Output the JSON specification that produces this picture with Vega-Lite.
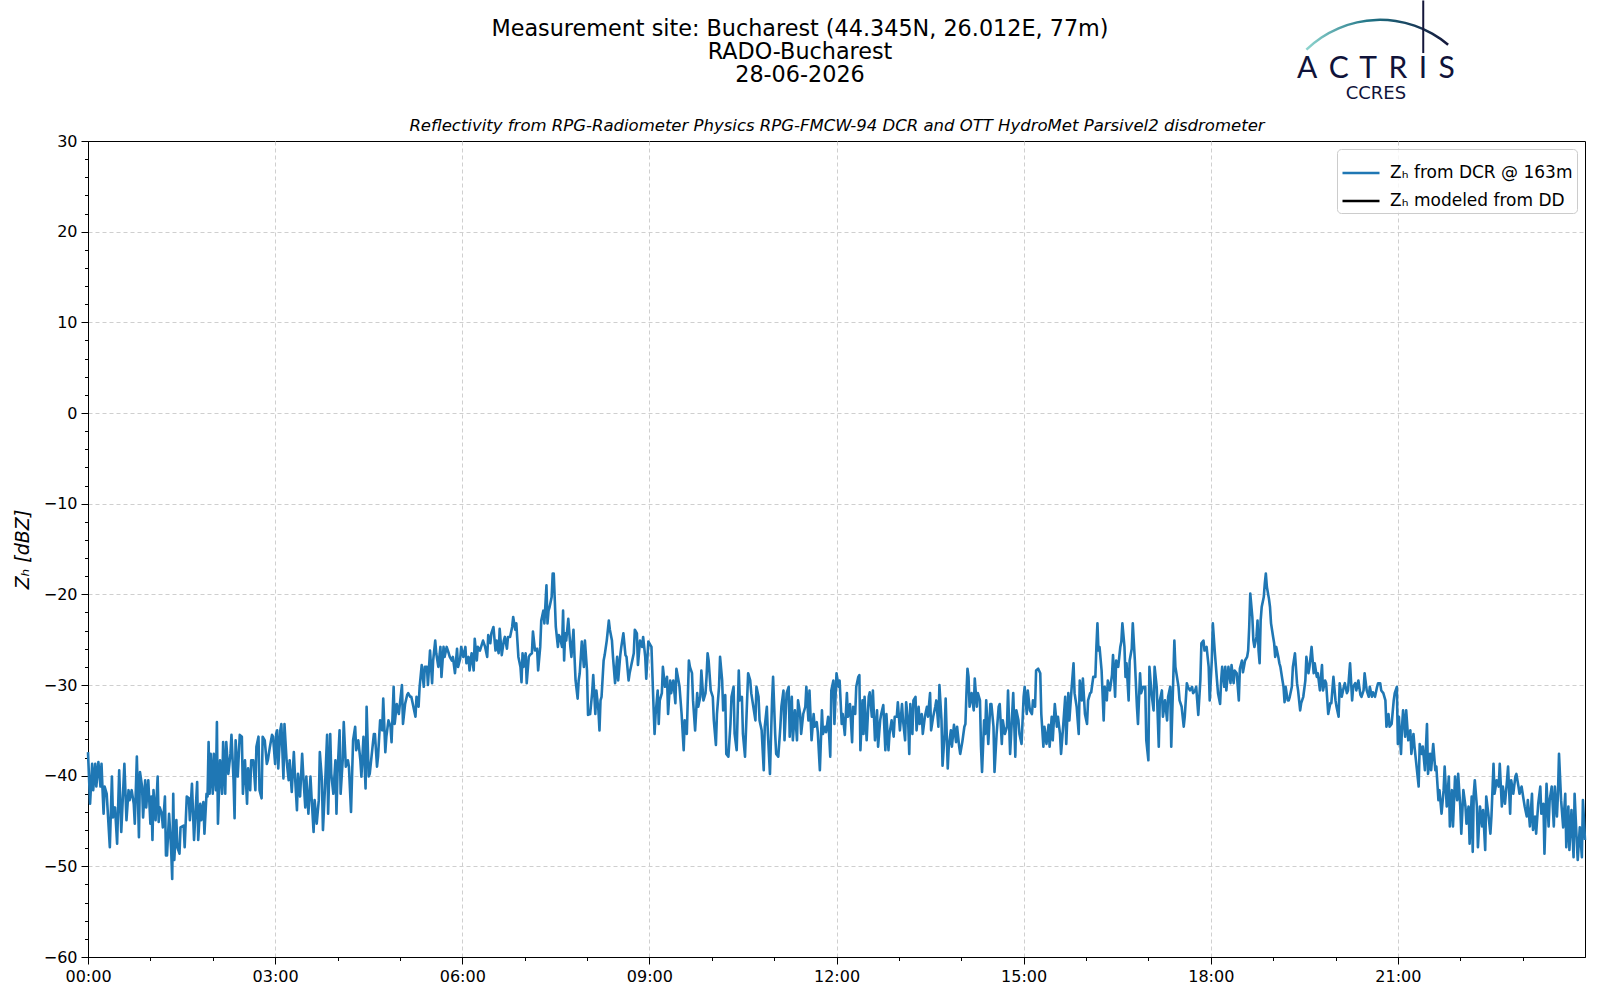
{
  "$schema": "https://vega.github.io/schema/vega-lite/v6.json",
  "width": 1497,
  "height": 816,
  "autosize": {"type": "none"},
  "padding": {"left": 88, "top": 141, "right": 15, "bottom": 43},
  "background": "white",
  "title": {
    "text": ["Measurement site: Bucharest (44.345N, 26.012E, 77m)", "RADO-Bucharest", "28-06-2026"],
    "fontSize": 22.3,
    "fontWeight": "normal",
    "font": "DejaVu Sans",
    "color": "black",
    "lineHeight": 23,
    "anchor": "middle",
    "frame": "group",
    "dx": -36.5,
    "offset": -87
  },
  "config": {
    "font": "DejaVu Sans",
    "view": {"stroke": "black", "strokeWidth": 1}
  },
  "resolve": {"axis": {"x": "independent", "y": "independent"}},
  "layer": [
    {
      "data": {"values": [
        {"m":0,"z":-37.4},{"m":2,"z":-43.1},{"m":4,"z":-38.7},{"m":5,"z":-41.6},{"m":7,"z":-38.7},{"m":8,"z":-41.2},{"m":10,"z":-38.5},{"m":12,"z":-41.2},{"m":13,"z":-38.7},{"m":14,"z":-41.6},
        {"m":15,"z":-44.2},{"m":16,"z":-41.2},{"m":18,"z":-42.0},{"m":21,"z":-47.9},{"m":23,"z":-40.1},{"m":24,"z":-44.6},{"m":26,"z":-43.5},{"m":28,"z":-47.5},{"m":30,"z":-39.4},{"m":32,"z":-46.2},
        {"m":35,"z":-38.7},{"m":37,"z":-44.9},{"m":39,"z":-41.6},{"m":40,"z":-42.7},{"m":42,"z":-41.6},{"m":44,"z":-43.1},{"m":45,"z":-45.3},{"m":47,"z":-37.9},{"m":49,"z":-46.8},{"m":50,"z":-39.6},
        {"m":52,"z":-41.2},{"m":53,"z":-44.6},{"m":55,"z":-40.5},{"m":56,"z":-43.5},{"m":58,"z":-40.5},{"m":60,"z":-45.3},{"m":61,"z":-42.3},{"m":62,"z":-47.1},{"m":63,"z":-41.6},{"m":65,"z":-44.9},
        {"m":67,"z":-40.1},{"m":68,"z":-45.1},{"m":69,"z":-43.5},{"m":71,"z":-44.2},{"m":72,"z":-45.7},{"m":74,"z":-42.3},{"m":75,"z":-48.8},{"m":76,"z":-48.8},{"m":78,"z":-44.2},{"m":80,"z":-48.2},
        {"m":81,"z":-51.4},{"m":82,"z":-42.0},{"m":83,"z":-49.3},{"m":85,"z":-44.9},{"m":86,"z":-47.9},{"m":88,"z":-48.6},{"m":89,"z":-45.7},{"m":92,"z":-45.5},{"m":93,"z":-47.9},{"m":95,"z":-42.3},
        {"m":97,"z":-42.5},{"m":98,"z":-44.9},{"m":100,"z":-40.9},{"m":102,"z":-47.1},{"m":105,"z":-40.7},{"m":106,"z":-47.1},{"m":108,"z":-43.1},{"m":109,"z":-44.9},{"m":111,"z":-42.9},{"m":112,"z":-46.4},
        {"m":114,"z":-42.0},{"m":115,"z":-42.3},{"m":116,"z":-36.3},{"m":117,"z":-42.0},{"m":118,"z":-37.6},{"m":120,"z":-42.0},{"m":121,"z":-37.6},{"m":123,"z":-41.6},{"m":124,"z":-34.1},{"m":125,"z":-45.3},
        {"m":127,"z":-38.3},{"m":129,"z":-42.0},{"m":130,"z":-36.3},{"m":132,"z":-42.0},{"m":133,"z":-36.3},{"m":135,"z":-39.8},{"m":137,"z":-37.6},{"m":138,"z":-35.5},{"m":140,"z":-40.5},{"m":141,"z":-44.7},
        {"m":142,"z":-36.1},{"m":144,"z":-40.1},{"m":146,"z":-35.5},{"m":148,"z":-35.7},{"m":149,"z":-42.0},{"m":151,"z":-38.3},{"m":153,"z":-43.1},{"m":154,"z":-39.2},{"m":156,"z":-41.6},{"m":157,"z":-38.3},
        {"m":159,"z":-38.3},{"m":161,"z":-41.6},{"m":162,"z":-36.8},{"m":164,"z":-35.7},{"m":165,"z":-41.6},{"m":167,"z":-42.5},{"m":168,"z":-35.7},{"m":170,"z":-36.1},{"m":172,"z":-38.7},{"m":173,"z":-38.3},
        {"m":175,"z":-36.8},{"m":177,"z":-35.5},{"m":178,"z":-35.7},{"m":180,"z":-38.7},{"m":181,"z":-35.4},{"m":182,"z":-35.0},{"m":183,"z":-39.2},{"m":185,"z":-35.0},{"m":186,"z":-34.3},{"m":188,"z":-40.3},
        {"m":189,"z":-34.3},{"m":191,"z":-38.3},{"m":193,"z":-40.5},{"m":194,"z":-38.3},{"m":196,"z":-41.8},{"m":198,"z":-37.4},{"m":199,"z":-39.8},{"m":201,"z":-43.8},{"m":202,"z":-39.8},{"m":204,"z":-42.3},
        {"m":206,"z":-37.6},{"m":207,"z":-39.8},{"m":209,"z":-43.5},{"m":210,"z":-40.1},{"m":212,"z":-44.2},{"m":214,"z":-40.1},{"m":215,"z":-42.3},{"m":217,"z":-46.2},{"m":218,"z":-42.7},{"m":220,"z":-45.3},
        {"m":222,"z":-42.7},{"m":223,"z":-37.4},{"m":225,"z":-40.5},{"m":226,"z":-46.0},{"m":228,"z":-41.2},{"m":230,"z":-35.5},{"m":231,"z":-44.2},{"m":233,"z":-35.4},{"m":234,"z":-39.8},{"m":236,"z":-42.0},
        {"m":238,"z":-38.3},{"m":239,"z":-44.2},{"m":240,"z":-39.8},{"m":242,"z":-35.0},{"m":243,"z":-42.0},{"m":245,"z":-38.3},{"m":246,"z":-34.1},{"m":248,"z":-39.0},{"m":250,"z":-38.3},{"m":251,"z":-39.0},
        {"m":253,"z":-44.0},{"m":255,"z":-36.1},{"m":257,"z":-34.6},{"m":258,"z":-37.2},{"m":260,"z":-36.1},{"m":262,"z":-38.3},{"m":263,"z":-40.1},{"m":265,"z":-35.7},{"m":267,"z":-41.4},{"m":268,"z":-32.4},
        {"m":270,"z":-40.1},{"m":271,"z":-39.8},{"m":273,"z":-37.6},{"m":275,"z":-35.4},{"m":276,"z":-35.4},{"m":278,"z":-39.0},{"m":279,"z":-37.9},{"m":281,"z":-33.9},{"m":283,"z":-35.0},{"m":284,"z":-31.5},
        {"m":286,"z":-37.4},{"m":287,"z":-35.7},{"m":289,"z":-33.9},{"m":291,"z":-34.6},{"m":292,"z":-36.3},{"m":294,"z":-30.2},{"m":295,"z":-34.3},{"m":297,"z":-32.1},{"m":299,"z":-33.2},{"m":300,"z":-32.1},
        {"m":302,"z":-30.0},{"m":303,"z":-34.3},{"m":305,"z":-32.1},{"m":307,"z":-31.1},{"m":308,"z":-30.9},{"m":310,"z":-31.3},{"m":311,"z":-31.3},{"m":313,"z":-32.4},{"m":315,"z":-33.5},{"m":316,"z":-31.3},
        {"m":318,"z":-32.4},{"m":319,"z":-30.2},{"m":321,"z":-27.8},{"m":323,"z":-30.2},{"m":324,"z":-28.0},{"m":326,"z":-28.0},{"m":327,"z":-30.0},{"m":329,"z":-26.2},{"m":331,"z":-29.8},{"m":332,"z":-27.3},
        {"m":334,"z":-25.1},{"m":335,"z":-26.5},{"m":337,"z":-28.0},{"m":339,"z":-25.8},{"m":340,"z":-29.1},{"m":342,"z":-25.8},{"m":343,"z":-26.9},{"m":345,"z":-25.8},{"m":347,"z":-26.5},{"m":348,"z":-26.9},
        {"m":350,"z":-27.3},{"m":351,"z":-26.9},{"m":353,"z":-28.7},{"m":355,"z":-26.0},{"m":356,"z":-28.0},{"m":358,"z":-27.1},{"m":359,"z":-25.8},{"m":361,"z":-26.9},{"m":363,"z":-25.8},{"m":364,"z":-27.6},
        {"m":366,"z":-26.9},{"m":367,"z":-28.4},{"m":369,"z":-26.5},{"m":371,"z":-28.4},{"m":372,"z":-24.9},{"m":374,"z":-27.3},{"m":375,"z":-25.8},{"m":377,"z":-26.2},
        {"m":380,"z":-25.1},{"m":382,"z":-25.8},{"m":384,"z":-26.9},{"m":385,"z":-24.5},{"m":387,"z":-25.4},{"m":388,"z":-24.3},{"m":390,"z":-23.6},{"m":392,"z":-26.2},{"m":393,"z":-25.1},{"m":395,"z":-26.5},
        {"m":396,"z":-23.8},{"m":398,"z":-26.7},{"m":400,"z":-25.1},{"m":401,"z":-24.7},{"m":403,"z":-26.0},{"m":404,"z":-24.7},{"m":406,"z":-24.7},{"m":408,"z":-23.6},{"m":409,"z":-22.5},{"m":410,"z":-23.2},
        {"m":411,"z":-23.9},{"m":412,"z":-23.2},{"m":414,"z":-26.9},{"m":416,"z":-28.0},{"m":417,"z":-29.7},{"m":418,"z":-26.5},{"m":419,"z":-28.0},{"m":421,"z":-26.5},{"m":422,"z":-29.8},{"m":424,"z":-26.9},
        {"m":425,"z":-26.7},{"m":427,"z":-26.5},{"m":428,"z":-24.1},{"m":430,"z":-26.2},{"m":432,"z":-26.0},{"m":433,"z":-28.4},{"m":435,"z":-25.8},{"m":436,"z":-22.9},{"m":438,"z":-21.8},{"m":439,"z":-23.2},
        {"m":441,"z":-19.0},{"m":442,"z":-23.2},{"m":443,"z":-21.8},{"m":444,"z":-21.4},{"m":446,"z":-20.3},{"m":447,"z":-17.7},{"m":448,"z":-17.7},{"m":449,"z":-20.6},{"m":450,"z":-23.6},{"m":452,"z":-25.8},
        {"m":453,"z":-24.5},{"m":454,"z":-24.7},{"m":456,"z":-25.8},{"m":457,"z":-21.8},{"m":458,"z":-27.3},{"m":459,"z":-24.3},{"m":460,"z":-25.1},{"m":462,"z":-22.7},{"m":464,"z":-25.8},{"m":465,"z":-26.9},
        {"m":467,"z":-23.9},{"m":468,"z":-26.9},{"m":469,"z":-29.5},{"m":471,"z":-31.5},{"m":472,"z":-29.5},{"m":473,"z":-28.7},{"m":475,"z":-25.2},{"m":477,"z":-28.0},{"m":478,"z":-25.1},{"m":480,"z":-28.4},
        {"m":481,"z":-33.3},{"m":483,"z":-33.2},{"m":485,"z":-30.8},{"m":486,"z":-28.9},{"m":488,"z":-33.2},{"m":489,"z":-30.6},{"m":491,"z":-32.8},{"m":492,"z":-35.0},{"m":493,"z":-31.7},{"m":494,"z":-31.3},
        {"m":496,"z":-27.3},{"m":497,"z":-26.7},{"m":499,"z":-25.1},{"m":501,"z":-22.9},{"m":502,"z":-23.9},{"m":504,"z":-25.1},{"m":505,"z":-26.9},{"m":507,"z":-29.8},{"m":509,"z":-26.9},{"m":510,"z":-29.5},
        {"m":512,"z":-26.7},{"m":513,"z":-25.8},{"m":515,"z":-24.3},{"m":517,"z":-26.7},{"m":518,"z":-26.9},{"m":520,"z":-29.5},{"m":521,"z":-28.7},{"m":523,"z":-27.6},{"m":525,"z":-26.5},{"m":526,"z":-23.9},
        {"m":528,"z":-24.3},{"m":529,"z":-27.8},{"m":531,"z":-25.1},{"m":533,"z":-25.8},{"m":534,"z":-24.7},{"m":536,"z":-26.9},{"m":537,"z":-29.3},{"m":539,"z":-25.2},{"m":541,"z":-25.6},{"m":542,"z":-25.8},
        {"m":544,"z":-32.4},{"m":545,"z":-35.4},{"m":546,"z":-33.2},{"m":548,"z":-30.6},{"m":549,"z":-34.3},{"m":550,"z":-31.7},{"m":552,"z":-30.9},{"m":553,"z":-28.0},{"m":555,"z":-30.2},{"m":557,"z":-29.1},
        {"m":558,"z":-33.2},{"m":560,"z":-29.5},{"m":561,"z":-30.9},{"m":563,"z":-29.5},{"m":565,"z":-32.0},{"m":566,"z":-28.2},{"m":568,"z":-29.5},{"m":569,"z":-30.2},{"m":571,"z":-33.2},{"m":573,"z":-37.2},
        {"m":574,"z":-33.9},{"m":575,"z":-34.6},{"m":576,"z":-35.4},{"m":578,"z":-27.3},{"m":579,"z":-28.0},{"m":581,"z":-28.7},{"m":582,"z":-31.7},{"m":584,"z":-35.0},{"m":586,"z":-30.9},{"m":587,"z":-32.4},
        {"m":589,"z":-31.3},{"m":590,"z":-28.4},{"m":592,"z":-31.7},{"m":594,"z":-30.9},{"m":595,"z":-29.1},{"m":596,"z":-26.5},{"m":597,"z":-27.3},{"m":599,"z":-30.6},{"m":601,"z":-31.3},{"m":602,"z":-33.9},
        {"m":604,"z":-36.6},{"m":605,"z":-33.2},{"m":607,"z":-30.2},{"m":608,"z":-26.9},{"m":610,"z":-29.5},{"m":611,"z":-32.8},{"m":613,"z":-31.1},{"m":614,"z":-37.6},{"m":616,"z":-37.9},{"m":618,"z":-34.3},
        {"m":619,"z":-31.3},{"m":621,"z":-30.2},{"m":622,"z":-35.4},{"m":624,"z":-37.2},{"m":626,"z":-28.4},{"m":627,"z":-31.7},{"m":629,"z":-31.3},{"m":630,"z":-35.4},{"m":632,"z":-37.9},{"m":634,"z":-31.7},
        {"m":635,"z":-28.7},{"m":637,"z":-29.5},{"m":638,"z":-30.9},{"m":640,"z":-32.4},{"m":642,"z":-33.9},{"m":643,"z":-30.2},{"m":645,"z":-31.3},{"m":646,"z":-33.9},{"m":648,"z":-35.0},{"m":650,"z":-39.4},
        {"m":651,"z":-34.6},{"m":653,"z":-32.4},{"m":654,"z":-35.4},{"m":656,"z":-39.8},{"m":658,"z":-31.7},{"m":659,"z":-29.1},{"m":661,"z":-35.4},{"m":662,"z":-37.6},{"m":664,"z":-37.9},{"m":666,"z":-34.6},
        {"m":667,"z":-32.4},{"m":669,"z":-30.6},{"m":670,"z":-36.1},{"m":672,"z":-30.9},{"m":674,"z":-30.2},{"m":675,"z":-35.7},{"m":677,"z":-31.3},{"m":678,"z":-36.1},{"m":680,"z":-32.8},{"m":682,"z":-36.1},
        {"m":683,"z":-31.7},{"m":685,"z":-33.2},{"m":686,"z":-35.4},{"m":688,"z":-33.2},{"m":690,"z":-32.4},{"m":691,"z":-30.2},{"m":693,"z":-33.9},{"m":694,"z":-30.6},{"m":696,"z":-36.1},{"m":698,"z":-33.2},
        {"m":699,"z":-34.6},{"m":701,"z":-34.1},{"m":702,"z":-35.2},{"m":704,"z":-39.4},{"m":706,"z":-32.8},{"m":707,"z":-35.4},{"m":709,"z":-34.6},{"m":710,"z":-35.2},{"m":712,"z":-33.5},{"m":714,"z":-37.9},
        {"m":715,"z":-30.6},{"m":717,"z":-29.5},{"m":718,"z":-34.3},{"m":720,"z":-28.7},{"m":722,"z":-30.2},{"m":723,"z":-29.5},
        {"m":725,"z":-34.3},{"m":726,"z":-33.2},{"m":728,"z":-35.5},{"m":730,"z":-30.9},{"m":731,"z":-33.5},{"m":733,"z":-32.1},{"m":735,"z":-36.3},{"m":736,"z":-32.4},{"m":738,"z":-33.2},{"m":739,"z":-30.2},
        {"m":741,"z":-29.1},{"m":742,"z":-28.9},{"m":743,"z":-37.2},{"m":745,"z":-31.7},{"m":746,"z":-35.4},{"m":747,"z":-31.3},{"m":749,"z":-36.1},{"m":751,"z":-31.3},{"m":752,"z":-30.8},{"m":754,"z":-33.5},
        {"m":755,"z":-30.6},{"m":757,"z":-36.1},{"m":759,"z":-32.8},{"m":760,"z":-36.8},{"m":762,"z":-33.9},{"m":763,"z":-33.2},{"m":765,"z":-32.2},{"m":767,"z":-37.2},{"m":768,"z":-33.2},{"m":770,"z":-37.2},
        {"m":771,"z":-35.4},{"m":773,"z":-33.9},{"m":775,"z":-35.7},{"m":776,"z":-33.5},{"m":778,"z":-33.5},{"m":779,"z":-31.9},{"m":781,"z":-35.0},{"m":783,"z":-32.1},{"m":784,"z":-33.9},{"m":786,"z":-36.1},
        {"m":787,"z":-31.9},{"m":789,"z":-34.3},{"m":790,"z":-37.6},{"m":791,"z":-32.1},{"m":793,"z":-35.4},{"m":794,"z":-31.7},{"m":796,"z":-31.3},{"m":797,"z":-35.0},{"m":799,"z":-32.4},{"m":800,"z":-34.3},
        {"m":802,"z":-33.2},{"m":803,"z":-35.4},{"m":805,"z":-33.5},{"m":807,"z":-32.4},{"m":808,"z":-33.5},{"m":810,"z":-30.9},{"m":811,"z":-35.0},{"m":813,"z":-33.5},{"m":815,"z":-32.4},{"m":816,"z":-31.7},
        {"m":818,"z":-34.6},{"m":819,"z":-30.0},{"m":821,"z":-33.9},{"m":822,"z":-38.9},{"m":824,"z":-35.4},{"m":825,"z":-31.5},{"m":827,"z":-39.2},{"m":828,"z":-36.8},{"m":830,"z":-35.0},{"m":831,"z":-36.8},
        {"m":833,"z":-34.4},{"m":835,"z":-36.3},{"m":836,"z":-34.6},{"m":838,"z":-36.8},{"m":839,"z":-37.6},{"m":841,"z":-36.3},{"m":843,"z":-34.6},{"m":844,"z":-34.3},{"m":845,"z":-30.9},{"m":846,"z":-28.2},
        {"m":847,"z":-29.1},{"m":848,"z":-32.4},{"m":850,"z":-30.9},{"m":852,"z":-32.8},{"m":853,"z":-29.3},{"m":855,"z":-32.4},{"m":856,"z":-30.9},{"m":858,"z":-31.7},{"m":859,"z":-36.8},{"m":860,"z":-39.6},
        {"m":862,"z":-33.9},{"m":863,"z":-35.4},{"m":864,"z":-31.7},{"m":866,"z":-36.5},{"m":868,"z":-32.1},{"m":869,"z":-32.1},{"m":871,"z":-34.6},{"m":872,"z":-39.6},{"m":874,"z":-35.4},{"m":876,"z":-32.4},
        {"m":877,"z":-32.1},{"m":879,"z":-36.5},{"m":880,"z":-33.9},{"m":882,"z":-35.4},{"m":884,"z":-34.6},{"m":885,"z":-30.6},{"m":887,"z":-37.6},{"m":888,"z":-35.4},{"m":890,"z":-30.9},{"m":892,"z":-37.9},
        {"m":893,"z":-32.8},{"m":895,"z":-33.9},{"m":896,"z":-35.4},{"m":898,"z":-36.5},{"m":900,"z":-31.3},{"m":901,"z":-30.2},{"m":903,"z":-33.2},{"m":904,"z":-30.6},{"m":906,"z":-32.8},{"m":908,"z":-33.2},
        {"m":909,"z":-31.7},{"m":911,"z":-32.4},{"m":912,"z":-28.4},{"m":914,"z":-28.2},{"m":916,"z":-28.7},{"m":917,"z":-33.2},{"m":919,"z":-36.8},{"m":920,"z":-34.6},{"m":922,"z":-36.5},{"m":924,"z":-34.4},
        {"m":925,"z":-36.8},{"m":927,"z":-33.5},{"m":928,"z":-36.1},{"m":930,"z":-32.1},{"m":932,"z":-34.6},{"m":933,"z":-33.5},{"m":935,"z":-35.4},{"m":936,"z":-37.6},{"m":938,"z":-34.6},{"m":940,"z":-31.3},
        {"m":941,"z":-36.5},{"m":943,"z":-30.9},{"m":944,"z":-33.9},{"m":946,"z":-30.6},{"m":948,"z":-27.6},{"m":949,"z":-30.9},{"m":951,"z":-32.4},{"m":953,"z":-35.4},{"m":954,"z":-29.5},{"m":956,"z":-31.7},
        {"m":957,"z":-29.3},{"m":959,"z":-33.2},{"m":961,"z":-34.3},{"m":962,"z":-31.7},{"m":964,"z":-30.9},{"m":965,"z":-30.8},{"m":967,"z":-29.1},{"m":969,"z":-29.1},{"m":970,"z":-25.8},{"m":971,"z":-23.2},
        {"m":972,"z":-26.2},{"m":973,"z":-25.8},{"m":975,"z":-28.4},{"m":977,"z":-33.9},{"m":978,"z":-30.2},{"m":980,"z":-31.7},{"m":981,"z":-29.5},{"m":983,"z":-30.6},{"m":985,"z":-28.9},{"m":986,"z":-26.7},
        {"m":988,"z":-31.3},{"m":989,"z":-27.3},{"m":991,"z":-28.0},{"m":993,"z":-25.8},{"m":994,"z":-25.2},{"m":995,"z":-23.2},{"m":997,"z":-25.8},{"m":998,"z":-29.1},{"m":999,"z":-27.6},{"m":1001,"z":-31.7},
        {"m":1002,"z":-27.3},{"m":1004,"z":-26.0},{"m":1005,"z":-23.2},{"m":1007,"z":-27.3},{"m":1009,"z":-32.4},{"m":1010,"z":-34.3},{"m":1012,"z":-28.7},{"m":1013,"z":-30.9},{"m":1015,"z":-30.2},{"m":1017,"z":-30.2},
        {"m":1018,"z":-36.1},{"m":1020,"z":-38.3},{"m":1021,"z":-28.0},{"m":1023,"z":-30.9},{"m":1025,"z":-32.8},{"m":1026,"z":-28.0},{"m":1028,"z":-30.2},{"m":1030,"z":-36.8},{"m":1031,"z":-31.7},{"m":1033,"z":-30.6},
        {"m":1034,"z":-33.5},{"m":1036,"z":-31.7},{"m":1038,"z":-33.9},{"m":1039,"z":-31.3},{"m":1041,"z":-30.2},{"m":1042,"z":-36.8},{"m":1044,"z":-29.1},{"m":1045,"z":-25.1},{"m":1046,"z":-28.0},{"m":1049,"z":-30.2},
        {"m":1050,"z":-31.7},{"m":1052,"z":-32.4},{"m":1054,"z":-34.6},{"m":1055,"z":-33.5},{"m":1057,"z":-29.8},{"m":1058,"z":-30.2},{"m":1060,"z":-30.6},{"m":1062,"z":-30.2},{"m":1063,"z":-30.9},{"m":1065,"z":-30.6},
        {"m":1066,"z":-30.2},{"m":1068,"z":-33.3},{"m":1070,"z":-29.5},{"m":1071,"z":-25.4},{"m":1073,"z":-25.1},{"m":1074,"z":-26.2},{"m":1076,"z":-25.8},{"m":1078,"z":-28.0},{"m":1079,"z":-31.7},{"m":1081,"z":-27.3},
        {"m":1082,"z":-23.2},{"m":1084,"z":-26.5},{"m":1086,"z":-29.5},{"m":1087,"z":-30.9},{"m":1089,"z":-32.1},
        {"m":1090,"z":-29.5},{"m":1091,"z":-28.0},{"m":1093,"z":-30.2},{"m":1094,"z":-28.0},{"m":1095,"z":-30.6},{"m":1097,"z":-28.0},{"m":1099,"z":-29.8},{"m":1100,"z":-27.8},{"m":1102,"z":-29.8},{"m":1103,"z":-28.4},
        {"m":1105,"z":-28.7},{"m":1107,"z":-31.7},{"m":1108,"z":-28.2},{"m":1110,"z":-27.3},{"m":1111,"z":-28.6},{"m":1113,"z":-27.3},{"m":1115,"z":-26.9},{"m":1116,"z":-26.2},{"m":1117,"z":-23.6},{"m":1118,"z":-19.9},
        {"m":1120,"z":-22.5},{"m":1121,"z":-25.1},{"m":1122,"z":-25.8},{"m":1124,"z":-24.7},{"m":1125,"z":-22.9},{"m":1126,"z":-26.2},{"m":1127,"z":-27.6},{"m":1128,"z":-22.9},{"m":1129,"z":-21.4},{"m":1131,"z":-20.3},
        {"m":1132,"z":-18.8},{"m":1133,"z":-17.7},{"m":1134,"z":-19.2},{"m":1136,"z":-20.5},{"m":1137,"z":-21.4},{"m":1138,"z":-23.2},{"m":1140,"z":-24.7},{"m":1141,"z":-25.4},{"m":1142,"z":-26.9},{"m":1143,"z":-25.8},
        {"m":1145,"z":-26.9},{"m":1146,"z":-27.6},{"m":1147,"z":-28.0},{"m":1149,"z":-29.5},{"m":1150,"z":-30.2},{"m":1151,"z":-31.9},{"m":1152,"z":-30.2},{"m":1154,"z":-31.7},{"m":1155,"z":-31.7},{"m":1156,"z":-31.3},
        {"m":1158,"z":-30.2},{"m":1159,"z":-28.0},{"m":1161,"z":-26.5},{"m":1163,"z":-29.8},{"m":1164,"z":-30.6},{"m":1166,"z":-32.8},{"m":1167,"z":-32.0},{"m":1169,"z":-31.3},{"m":1171,"z":-29.5},{"m":1172,"z":-26.9},
        {"m":1174,"z":-28.7},{"m":1175,"z":-28.0},{"m":1177,"z":-25.8},{"m":1179,"z":-28.7},{"m":1180,"z":-27.6},{"m":1182,"z":-29.1},{"m":1183,"z":-28.7},{"m":1185,"z":-30.6},{"m":1187,"z":-27.8},{"m":1188,"z":-30.6},
        {"m":1190,"z":-29.5},{"m":1191,"z":-29.8},{"m":1193,"z":-33.2},{"m":1195,"z":-32.0},{"m":1196,"z":-32.0},{"m":1198,"z":-29.1},{"m":1200,"z":-31.7},{"m":1201,"z":-32.4},{"m":1203,"z":-33.5},{"m":1204,"z":-29.8},
        {"m":1206,"z":-31.3},{"m":1208,"z":-30.2},{"m":1209,"z":-29.8},{"m":1211,"z":-30.9},{"m":1212,"z":-30.6},{"m":1214,"z":-27.6},{"m":1216,"z":-31.7},{"m":1217,"z":-30.2},{"m":1219,"z":-29.8},{"m":1220,"z":-30.6},
        {"m":1222,"z":-29.5},{"m":1224,"z":-31.1},{"m":1225,"z":-31.3},{"m":1227,"z":-30.6},{"m":1228,"z":-28.7},{"m":1230,"z":-30.6},{"m":1232,"z":-31.3},{"m":1233,"z":-30.2},{"m":1235,"z":-31.3},{"m":1236,"z":-30.8},
        {"m":1238,"z":-31.3},{"m":1240,"z":-30.2},{"m":1241,"z":-29.8},{"m":1243,"z":-29.8},{"m":1244,"z":-30.6},{"m":1246,"z":-30.9},{"m":1248,"z":-31.7},{"m":1249,"z":-34.6},{"m":1251,"z":-33.2},{"m":1252,"z":-34.6},
        {"m":1254,"z":-34.3},{"m":1256,"z":-31.7},{"m":1257,"z":-30.9},{"m":1259,"z":-30.2},{"m":1260,"z":-36.5},{"m":1261,"z":-33.5},{"m":1263,"z":-37.6},{"m":1264,"z":-34.6},{"m":1265,"z":-32.8},{"m":1267,"z":-35.7},
        {"m":1268,"z":-32.8},{"m":1270,"z":-36.1},{"m":1272,"z":-35.0},{"m":1273,"z":-37.6},{"m":1275,"z":-35.4},{"m":1276,"z":-36.8},{"m":1278,"z":-39.0},{"m":1280,"z":-41.2},{"m":1281,"z":-36.5},{"m":1283,"z":-37.6},
        {"m":1284,"z":-36.8},{"m":1286,"z":-39.4},{"m":1288,"z":-34.3},{"m":1289,"z":-39.8},{"m":1291,"z":-37.6},{"m":1292,"z":-39.4},{"m":1294,"z":-36.5},{"m":1296,"z":-39.4},{"m":1297,"z":-39.0},{"m":1299,"z":-42.7},
        {"m":1300,"z":-41.6},{"m":1302,"z":-44.2},{"m":1304,"z":-41.6},{"m":1305,"z":-39.0},{"m":1307,"z":-43.4},{"m":1309,"z":-40.1},{"m":1310,"z":-45.6},{"m":1312,"z":-41.6},{"m":1313,"z":-45.6},{"m":1315,"z":-40.1},
        {"m":1317,"z":-42.7},{"m":1318,"z":-39.8},{"m":1320,"z":-43.4},{"m":1321,"z":-46.4},{"m":1323,"z":-41.6},{"m":1325,"z":-43.4},{"m":1326,"z":-45.3},{"m":1328,"z":-43.4},{"m":1329,"z":-47.5},{"m":1331,"z":-42.3},
        {"m":1332,"z":-48.4},{"m":1333,"z":-42.0},{"m":1334,"z":-40.5},{"m":1336,"z":-43.4},{"m":1337,"z":-47.9},{"m":1339,"z":-43.4},{"m":1341,"z":-45.6},{"m":1342,"z":-43.8},{"m":1344,"z":-48.2},{"m":1345,"z":-42.3},
        {"m":1347,"z":-44.2},{"m":1349,"z":-46.4},{"m":1350,"z":-44.5},{"m":1352,"z":-38.7},{"m":1353,"z":-42.0},{"m":1355,"z":-40.5},{"m":1357,"z":-41.2},{"m":1358,"z":-38.7},{"m":1360,"z":-43.4},{"m":1361,"z":-41.2},
        {"m":1363,"z":-43.1},{"m":1365,"z":-40.5},{"m":1366,"z":-39.0},{"m":1368,"z":-44.2},{"m":1369,"z":-40.5},{"m":1371,"z":-42.0},{"m":1373,"z":-40.1},{"m":1374,"z":-39.8},{"m":1376,"z":-41.2},{"m":1377,"z":-42.0},
        {"m":1379,"z":-41.2},{"m":1381,"z":-42.7},{"m":1382,"z":-43.4},{"m":1384,"z":-44.5},{"m":1385,"z":-42.7},{"m":1387,"z":-45.6},{"m":1389,"z":-42.0},{"m":1390,"z":-46.0},{"m":1392,"z":-44.5},{"m":1393,"z":-46.4},
        {"m":1395,"z":-43.1},{"m":1397,"z":-41.2},{"m":1398,"z":-44.2},{"m":1400,"z":-43.1},{"m":1401,"z":-48.6},{"m":1403,"z":-40.9},{"m":1405,"z":-45.6},{"m":1406,"z":-42.7},{"m":1408,"z":-41.2},{"m":1410,"z":-45.6},
        {"m":1411,"z":-41.2},{"m":1413,"z":-44.5},{"m":1414,"z":-42.0},{"m":1415,"z":-37.6},{"m":1417,"z":-42.7},{"m":1419,"z":-45.7},{"m":1421,"z":-42.0},{"m":1422,"z":-47.9},{"m":1424,"z":-43.4},{"m":1425,"z":-48.2},
        {"m":1427,"z":-43.8},{"m":1429,"z":-49.0},{"m":1430,"z":-42.0},{"m":1432,"z":-47.1},{"m":1433,"z":-49.3},{"m":1435,"z":-45.7},{"m":1437,"z":-49.0},{"m":1438,"z":-42.7},{"m":1440,"z":-47.1}
      ]},
      "mark": {"type": "line", "strokeWidth": 2.6, "strokeJoin": "round"},
      "encoding": {
        "x": {
          "field": "m",
          "type": "quantitative",
          "scale": {"domain": [0, 1440], "nice": false, "zero": false},
          "axis": {
            "orient": "bottom",
            "title": null,
            "values": [0, 60, 120, 180, 240, 300, 360, 420, 480, 540, 600, 660, 720, 780, 840, 900, 960, 1020, 1080, 1140, 1200, 1260, 1320, 1380],
            "labelExpr": "datum.value % 180 === 0 ? (datum.value < 600 ? '0' : '') + (datum.value / 60) + ':00' : ''",
            "labelFontSize": 16,
            "labelColor": "black",
            "labelPadding": 4,
            "labelFlush": false,
            "labelOverlap": false,
            "domainColor": "black",
            "tickColor": "black",
            "tickSize": {"condition": {"test": "datum.value % 180 !== 0", "value": 3.5}, "value": 7},
            "grid": true,
            "gridColor": "#cfcfcf",
            "gridDash": [4, 3],
            "gridWidth": 1,
            "gridOpacity": {"condition": {"test": "datum.value % 180 !== 0 || datum.value === 0", "value": 0}, "value": 1}
          }
        },
        "y": {
          "field": "z",
          "type": "quantitative",
          "scale": {"domain": [-60, 30], "nice": false, "zero": false},
          "axis": {
            "orient": "left",
            "title": "Zₕ [dBZ]",
            "titleFontSize": 19,
            "titleFontStyle": "italic",
            "titleFontWeight": "normal",
            "titleColor": "black",
            "titlePadding": 11,
            "values": [-60, -58, -56, -54, -52, -50, -48, -46, -44, -42, -40, -38, -36, -34, -32, -30, -28, -26, -24, -22, -20, -18, -16, -14, -12, -10, -8, -6, -4, -2, 0, 2, 4, 6, 8, 10, 12, 14, 16, 18, 20, 22, 24, 26, 28, 30],
            "labelExpr": "datum.value % 10 === 0 ? datum.label : ''",
            "labelFontSize": 16,
            "labelColor": "black",
            "labelPadding": 4,
            "labelFlush": false,
            "labelOverlap": false,
            "domainColor": "black",
            "tickColor": "black",
            "tickSize": {"condition": {"test": "datum.value % 10 !== 0", "value": 3.5}, "value": 7},
            "grid": true,
            "gridColor": "#cfcfcf",
            "gridDash": [4, 3],
            "gridWidth": 1,
            "gridOpacity": {"condition": {"test": "datum.value % 10 !== 0 || datum.value === 30 || datum.value === -60", "value": 0}, "value": 1}
          }
        },
        "color": {
          "datum": "Zₕ from DCR @ 163m",
          "type": "nominal",
          "scale": {"domain": ["Zₕ from DCR @ 163m", "Zₕ modeled from DD"], "range": ["#1f77b4", "#000000"]},
          "legend": {
            "orient": "top-right",
            "offset": 8,
            "title": null,
            "symbolType": "stroke",
            "symbolStrokeWidth": 2.6,
            "symbolSize": 1369,
            "labelFontSize": 17,
            "labelFont": "DejaVu Sans",
            "labelColor": "black",
            "labelLimit": 400,
            "labelOffset": 9,
            "rowPadding": 0,
            "padding": 4,
            "strokeColor": "#cccccc",
            "fillColor": "rgba(255,255,255,0.8)",
            "cornerRadius": 4
          }
        }
      }
    },
    {
      "data": {"values": [{}]},
      "mark": {"type": "text", "text": "A\u2009 C\u2009 T\u2009 R\u2009 I\u2009 S", "font": "Lato", "fontSize": 30, "color": "#10133a", "align": "center", "baseline": "alphabetic"},
      "encoding": {
        "x": {
          "datum": 1238.9,
          "type": "quantitative",
          "scale": {"domain": [0, 1440], "nice": false, "zero": false},
          "axis": {
            "orient": "top",
            "title": "Reflectivity from RPG-Radiometer Physics RPG-FMCW-94 DCR and OTT HydroMet Parsivel2 disdrometer",
            "titleFontSize": 16.5,
            "titleFontStyle": "italic",
            "titleFontWeight": "normal",
            "titleColor": "black",
            "titlePadding": 8,
            "labels": false,
            "ticks": false,
            "domain": false,
            "grid": false
          }
        },
        "y": {"datum": 37.0, "type": "quantitative", "scale": {"domain": [-60, 30], "nice": false, "zero": false}, "axis": null}
      }
    },
    {
      "data": {"values": [{}]},
      "mark": {"type": "text", "text": "CCRES", "font": "DejaVu Sans", "fontSize": 18, "color": "#10133a", "align": "center", "baseline": "alphabetic"},
      "encoding": {
        "x": {"datum": 1238.9, "type": "quantitative", "scale": {"domain": [0, 1440], "nice": false, "zero": false}, "axis": null},
        "y": {"datum": 34.6, "type": "quantitative", "scale": {"domain": [-60, 30], "nice": false, "zero": false}, "axis": null}
      }
    },
    {
      "data": {"values": [{}]},
      "mark": {
        "type": "arc",
        "radius": 107,
        "radius2": 104.5,
        "theta": -0.77,
        "theta2": 0.7,
        "fill": {
          "gradient": "linear",
          "x1": 0, "y1": 0, "x2": 1, "y2": 0,
          "stops": [
            {"offset": 0, "color": "#8fd6cf"},
            {"offset": 0.45, "color": "#1f7285"},
            {"offset": 1, "color": "#14163a"}
          ]
        }
      },
      "encoding": {
        "x": {"datum": 1242.8, "type": "quantitative", "scale": {"domain": [0, 1440], "nice": false, "zero": false}, "axis": null},
        "y": {"datum": 31.7, "type": "quantitative", "scale": {"domain": [-60, 30], "nice": false, "zero": false}, "axis": null}
      }
    },
    {
      "data": {"values": [{}]},
      "mark": {"type": "rule", "color": "#14163a", "strokeWidth": 2},
      "encoding": {
        "x": {"datum": 1284.4, "type": "quantitative", "scale": {"domain": [0, 1440], "nice": false, "zero": false}, "axis": null},
        "y": {"datum": 45.5, "type": "quantitative", "scale": {"domain": [-60, 30], "nice": false, "zero": false}, "axis": null},
        "y2": {"datum": 39.7}
      }
    }
  ]
}
